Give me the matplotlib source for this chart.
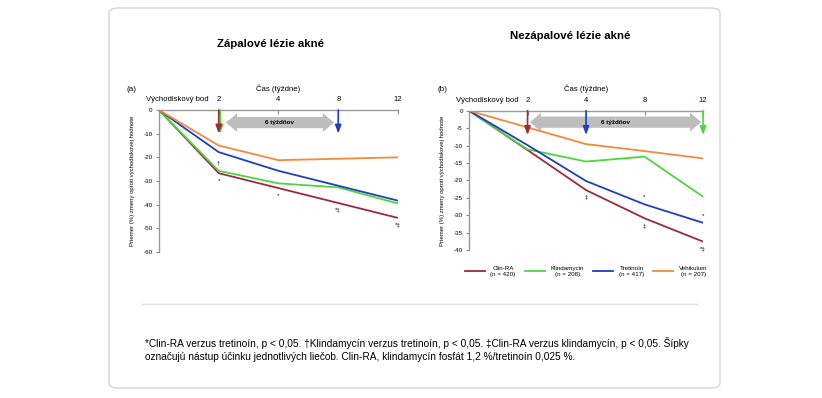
import matplotlib
matplotlib.use("Agg")
import matplotlib.pyplot as plt
from matplotlib.patches import FancyBboxPatch
from matplotlib.lines import Line2D
from matplotlib.transforms import offset_copy

plt.rcParams['font.family'] = ['Liberation Sans', 'DejaVu Sans']

# data
week_labels = ["2", "4", "8", "12"]
series_names = ["Clin-RA\n(n = 420)", "Klindamycin\n(n = 208)", "Tretinoín\n(n = 417)", "Vehikulum\n(n = 207)"]
colors = ["#9e2a3c", "#4cd73c", "#1e3fbe", "#f5893a"]

inflam_clin = [0, -26.7, -33.0, -39.3, -45.6]
inflam_klin = [0, -25.7, -31.0, -32.7, -39.5]
inflam_tret = [0, -17.8, -25.7, -32.0, -38.3]
inflam_veh = [0, -15.0, -21.2, -20.6, -20.0]

noninf_clin = [0, -11.3, -22.8, -30.9, -37.6]
noninf_klin = [0, -11.1, -14.6, -13.2, -24.7]
noninf_tret = [0, -9.9, -20.2, -26.9, -32.2]
noninf_veh = [0, -4.8, -9.6, -11.6, -13.7]

# onset of effect (category index) per series, None = no arrow
inflam_onset = [1, 1, 3, None]
noninf_onset = [1, 4, 2, None]

# significance marks: (series index, point index, symbol, above?)
inflam_marks = [(1, 1, "†", True), (0, 1, "*", False), (0, 2, "*", False),
                (0, 3, "*‡", False), (0, 4, "*‡", False)]
noninf_marks = [(0, 2, "‡", False), (2, 3, "*", True), (0, 3, "‡", False),
                (2, 4, "*", True), (0, 4, "*‡", False)]

fig = plt.figure(figsize=(8.22, 3.98), dpi=100)

card = FancyBboxPatch((0.1326, 0.0251), 0.7433, 0.9548, boxstyle="round,pad=0,rounding_size=0.012",
                      transform=fig.transFigure, facecolor="white", edgecolor="#d4d4d4", lw=1.0,
                      zorder=-10)
fig.patches.append(card)
fig.add_artist(Line2D([0.1727, 0.848], [0.2362, 0.2362], transform=fig.transFigure,
                      color="#e2e2e2", lw=1.0, zorder=-5))


def draw_panel(ax, values, onset, marks, ymin, ystep, arrow_len, span, span_y, tag, tag_dx):
    ax.set_facecolor("none")
    x = list(range(len(values[0])))
    for vals, c in zip(values, colors):
        ax.plot(x, vals, color=c, lw=1.3, solid_capstyle="butt", zorder=3)
    ax.set_xlim(0, 4)
    ax.set_ylim(ymin, 0)
    ax.set_yticks(range(0, ymin - 1, -ystep))
    ax.set_yticklabels([str(v) for v in range(0, ymin - 1, -ystep)])
    ax.xaxis.tick_top()
    ax.xaxis.set_label_position("top")
    ax.set_xticks(x[1:])
    ax.set_xticklabels(week_labels)
    ax.set_xlabel("Čas (týždne)", fontsize=5.6, labelpad=4)
    ax.tick_params(axis="x", direction="in", length=3, pad=5, labelsize=5.5, color="#888888")
    ax.tick_params(axis="y", direction="out", length=2.5, pad=2, labelsize=4.5, color="#888888")
    for s in ["bottom", "right"]:
        ax.spines[s].set_visible(False)
    for s in ["top", "left"]:
        ax.spines[s].set_color("#999999")
        ax.spines[s].set_linewidth(1.0)
    ax.annotate("Východiskový bod", xy=(0.31, 1.0), xycoords=("data", "axes fraction"),
                xytext=(0, 5), textcoords="offset points",
                ha="center", va="bottom", fontsize=5.6, annotation_clip=False)
    ax.annotate(tag, xy=(0, 1.0), xycoords="axes fraction", xytext=(tag_dx, 15),
                textcoords="offset points", fontsize=5.8, ha="center", va="center",
                annotation_clip=False)
    ax.set_ylabel("Priemer (%) zmeny oproti východiskovej hodnote", fontsize=4.3, labelpad=6)

    # onset arrows
    for i, (on, c) in enumerate(zip(onset, colors)):
        if on is None:
            continue
        dx = 1.5 if (i == 1 and on == onset[0]) else 0
        tr = offset_copy(ax.transData, fig=fig, x=dx, y=0, units="dots")
        ax.annotate("", xy=(on, -arrow_len), xytext=(on, 0), xycoords=tr, textcoords=tr,
                    arrowprops=dict(arrowstyle="-|>,head_width=0.2,head_length=0.55",
                                    color=c, lw=1.2, mutation_scale=9, shrinkA=0, shrinkB=0),
                    zorder=5 - 0.1 * i)

    # 6-week double arrow
    mid = (span[0] + span[1]) / 2
    for end in span:
        ax.annotate("", xy=(end, span_y), xytext=(mid, span_y),
                    arrowprops=dict(arrowstyle="simple,head_width=1.5,head_length=0.9,tail_width=0.9",
                                    color="#bdbdbd", mutation_scale=9, shrinkA=0, shrinkB=0, lw=0),
                    zorder=2)
    ax.text(mid, span_y, "6 týždňov", fontsize=4.5, fontweight="bold", ha="center", va="center", zorder=4)

    for si, pi, sym, above in marks:
        ax.annotate(sym, xy=(x[pi], values[si][pi]), xytext=(0, 3.5 if above else -3.5),
                    textcoords="offset points", fontsize=4.5, ha="center",
                    va="bottom" if above else "top", zorder=4)


ax1 = fig.add_axes([0.1934, 0.3668, 0.2908, 0.3568])
draw_panel(ax1, [inflam_clin, inflam_klin, inflam_tret, inflam_veh], inflam_onset, inflam_marks,
           -60, 10, 10, (1.12, 2.93), -5.3, "(a)", -20)

ax2 = fig.add_axes([0.5706, 0.3719, 0.2847, 0.35])
draw_panel(ax2, [noninf_clin, noninf_klin, noninf_tret, noninf_veh], noninf_onset, noninf_marks,
           -40, 5, 7, (1.04, 3.97), -3.3, "(b)", -19)

handles = [Line2D([], [], color=c, lw=1.3) for c in colors]
leg = ax2.legend(handles, series_names, loc="upper center", bbox_to_anchor=(0.5, -0.075), ncol=4,
                 frameon=False, fontsize=4.5, handlelength=3.2, handletextpad=0.9,
                 columnspacing=1.5)
for t in leg.get_texts():
    t.set_multialignment("center")

fig.text(0.3285, 0.8894, "Zápalové lézie akné", ha="center", va="center", fontsize=8.2, fontweight="bold")
fig.text(0.6934, 0.9095, "Nezápalové lézie akné", ha="center", va="center", fontsize=8.2, fontweight="bold")

fig.text(0.1764, 0.1533,
         "*Clin-RA verzus tretinoín, p < 0,05. †Klindamycín verzus tretinoín, p < 0,05. "
         "‡Clin-RA verzus klindamycín, p < 0,05. Šípky\n"
         "označujú nástup účinku jednotlivých liečob. Clin-RA, klindamycín fosfát 1,2 %/tretinoín 0,025 %.",
         ha="left", va="top", fontsize=7.25, linespacing=1.4)

fig.savefig("out.png", dpi=100)
